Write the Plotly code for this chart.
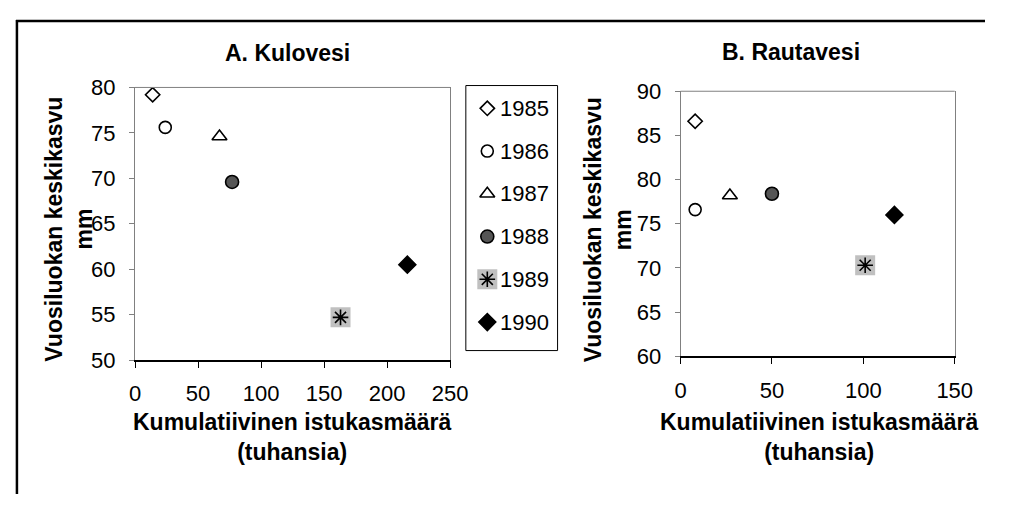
import plotly.graph_objects as go

# page body keeps its 8px margin, so the figure is 16px smaller than the window
OFF = 8
W, H = 1011 - 2 * OFF, 515 - 2 * OFF

# data
years = ["1985", "1986", "1987", "1988", "1989", "1990"]
kulovesi_x = [14, 24, 67, 77, 163, 216]          # kumulatiivinen istukasmäärä, tuhansia
kulovesi_y = [79.2, 75.6, 74.6, 69.6, 54.7, 60.5]  # vuosiluokan keskikasvu, mm
rautavesi_x = [8, 8, 27, 50, 101, 117]
rautavesi_y = [86.6, 76.6, 78.2, 78.4, 70.3, 76.0]
legend_pos = list(range(len(years)))

# excel-ish marker per year
symbols = ["diamond-open", "circle-open", "triangle-up-open", "circle", "asterisk-open", "diamond"]
fills = ["black", "black", "black", "#555555", "black", "black"]
sizes = [11, 12, 13, 13, 13, 13]
HILITE = "1989"   # this one sits on a grey square

FONT = "Liberation Sans, Arial, sans-serif"


def fx(px):
    # window pixel -> paper x
    return (px - OFF) / W


def fy(py):
    return 1 - (py - OFF) / H


fig = go.Figure()


def add_points(xs, ys, xa, ya):
    for i, yr in enumerate(years):
        if yr == HILITE:
            fig.add_trace(go.Scatter(x=[xs[i]], y=[ys[i]], xaxis=xa, yaxis=ya, mode="markers",
                                     marker=dict(symbol="square", size=20, color="#c0c0c0"),
                                     showlegend=False, hoverinfo="skip"))
        fig.add_trace(go.Scatter(
            x=[xs[i]], y=[ys[i]], xaxis=xa, yaxis=ya, mode="markers",
            marker=dict(symbol=symbols[i], size=sizes[i], color=fills[i],
                        line=dict(color="black", width=1.6)),
            name=yr, showlegend=False))


add_points(kulovesi_x, kulovesi_y, "x", "y")
add_points(rautavesi_x, rautavesi_y, "x2", "y2")
# legend column drawn as its own little axis
add_points([0] * len(years), legend_pos, "x3", "y3")
for i, yr in enumerate(years):
    fig.add_annotation(x=0, y=legend_pos[i], xref="x3", yref="y3", text=yr, showarrow=False,
                       xanchor="left", yanchor="middle", xshift=11,
                       font=dict(size=22, color="black", family=FONT))

tickfont = dict(size=22, color="black", family=FONT)
xcommon = dict(showline=True, linecolor="black", linewidth=2, ticks="outside", ticklen=6,
               tickcolor="black", tickwidth=1, showgrid=False, zeroline=False, tickfont=tickfont,
               ticklabelstandoff=7, fixedrange=True)
ycommon = dict(showline=True, linecolor="#808080", linewidth=1, mirror=True, ticks="outside",
               ticklen=5, tickcolor="#808080", showgrid=False, zeroline=False, tickfont=tickfont,
               ticklabelstandoff=9, dtick=5, fixedrange=True)

fig.update_layout(
    width=W, height=H,
    margin=dict(l=0, r=0, t=0, b=0),
    paper_bgcolor="white", plot_bgcolor="white",
    font=dict(family=FONT, color="black"),
    xaxis=dict(domain=[fx(132), fx(455)], range=[0, 250], dtick=50, anchor="y", **xcommon),
    yaxis=dict(domain=[fy(366), fy(79)], range=[50, 80], anchor="x", **ycommon),
    xaxis2=dict(domain=[fx(691), fx(972)], range=[0, 150], dtick=50, anchor="y2", **xcommon),
    yaxis2=dict(domain=[fy(362), fy(83)], range=[60, 90], anchor="x2", **ycommon),
    xaxis3=dict(domain=[fx(471), fx(565)], range=[-22, 72], visible=False, fixedrange=True),
    yaxis3=dict(domain=[fy(356), fy(77)], range=[5.667, -0.533], visible=False, fixedrange=True),
)

shapes = [
    # grey top edge of the plot areas
    dict(type="line", xref="x domain", yref="y domain", x0=0, x1=1, y0=1, y1=1,
         line=dict(color="#808080", width=1)),
    dict(type="line", xref="x2 domain", yref="y2 domain", x0=0, x1=1, y0=1, y1=1,
         line=dict(color="#808080", width=1)),
    # legend box
    dict(type="rect", xref="x3 domain", yref="y3 domain", x0=0, x1=1, y0=0, y1=1,
         line=dict(color="black", width=1)),
    # outer frame (only top and left are in view); kept inside the paper
    dict(type="line", xref="paper", yref="paper", x0=fx(10), x1=1, y0=fy(9), y1=fy(9),
         line=dict(color="black", width=2.5)),
    dict(type="line", xref="paper", yref="paper", x0=fx(11), x1=fx(11), y0=fy(8), y1=0,
         line=dict(color="black", width=2.5)),
]
fig.update_layout(shapes=shapes)

bold = dict(size=23, color="black", family=FONT)
ann = [
    dict(text="<b>A. Kulovesi</b>", x=fx(288), y=fy(43), font=bold),
    dict(text="<b>B. Rautavesi</b>", x=fx(804), y=fy(42), font=bold),
    dict(text="<b>Kumulatiivinen istukasmäärä</b><br><b>(tuhansia)</b>", x=fx(293), y=fy(447), font=bold),
    dict(text="<b>Kumulatiivinen istukasmäärä</b><br><b>(tuhansia)</b>", x=fx(833), y=fy(447), font=bold),
    dict(text="<b>Vuosiluokan keskikasvu</b><br><b>mm</b>", x=fx(64), y=fy(228), textangle=-90, font=bold),
    dict(text="<b>Vuosiluokan keskikasvu</b><br><b>mm</b>", x=fx(617), y=fy(229), textangle=-90, font=bold),
]
for a in ann:
    fig.add_annotation(xref="paper", yref="paper", showarrow=False, xanchor="center", yanchor="middle", **a)

fig.write_html("out.html")
